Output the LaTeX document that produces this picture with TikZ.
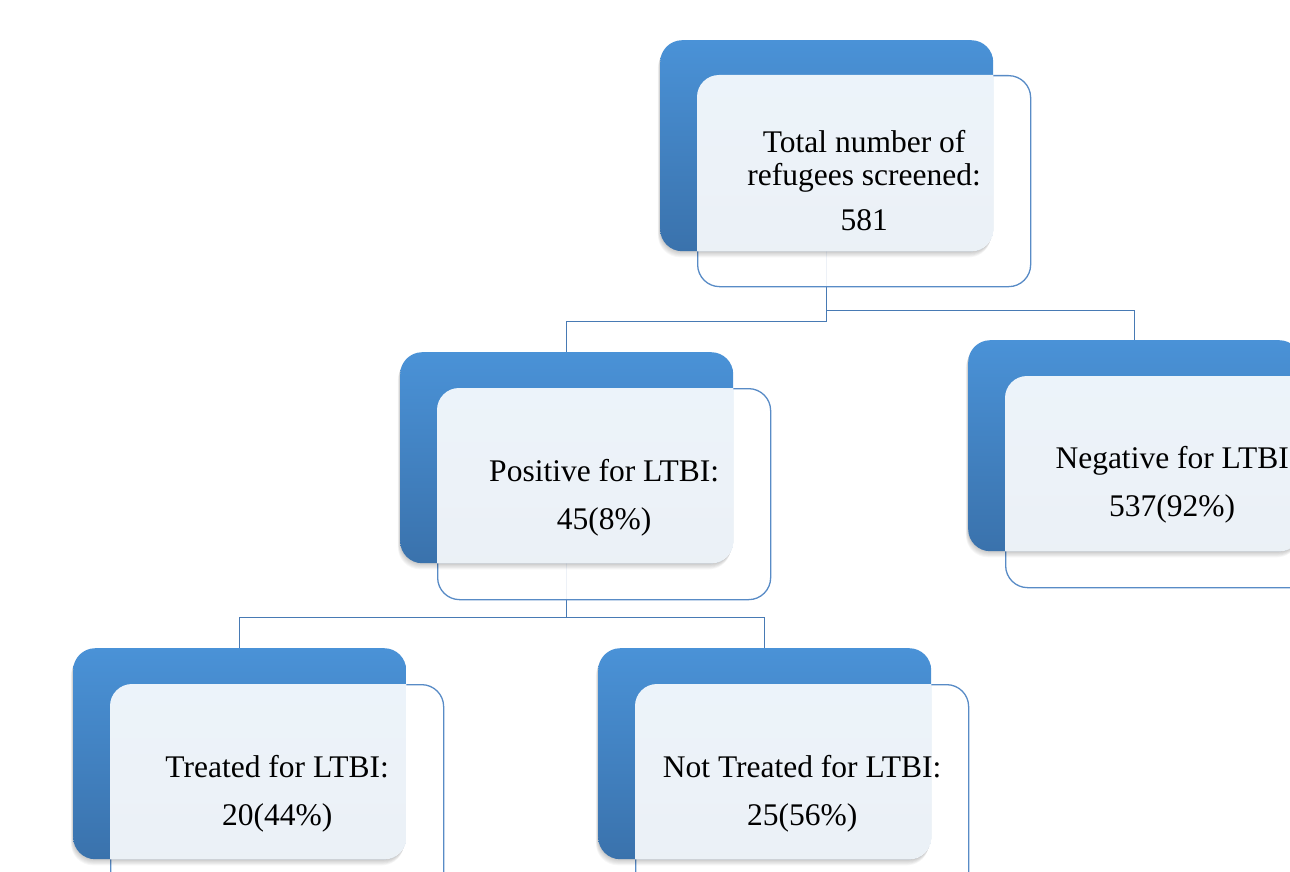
\documentclass[tikz,border=0pt]{standalone}
\usepackage{fontspec}
\setmainfont{Liberation Serif}
\usetikzlibrary{positioning}
\pgfdeclarelayer{bg}
\pgfsetlayers{bg,main}
\definecolor{blueT}{RGB}{74,146,215}
\definecolor{blueB}{RGB}{58,114,172}
\definecolor{edgeC}{RGB}{88,139,198}
\definecolor{connC}{RGB}{72,122,180}
\tikzset{
  backbox/.style={rectangle, rounded corners=22pt, minimum width=333pt, minimum height=211pt,
    anchor=north west, inner sep=0pt, top color=blueT, bottom color=blueB, draw=none},
  frontbox/.style={rectangle, rounded corners=22pt, minimum width=333pt, minimum height=211pt,
    anchor=north west, inner sep=0pt, draw=edgeC, line width=1.3pt, fill=white, fill opacity=0.9},
  conn/.style={draw=connC, line width=1.5pt},
  lbl/.style={align=center, inner sep=0pt, font=\fontsize{31.5}{33}\selectfont, text=black},
}
\newcommand{\softshadow}[2]{%
  \foreach \s in {1,...,7}{%
    \fill[black, opacity=0.03, rounded corners=22pt]
      ($(#1,#2)+(-0.3*\s,0.9*\s)$) rectangle ($(#1+333,#2+211)+(-0.3*\s,0.9*\s)$);}}
\usetikzlibrary{calc}
\newcommand{\overlapfill}[2]{%
  \begin{scope}
    \clip[rounded corners=22pt] (#1.north west) rectangle (#1.south east);
    \fill[white, opacity=0.9, rounded corners=22pt] (#2.north west) rectangle (#2.south east);
  \end{scope}}
\begin{document}
\begin{tikzpicture}[x=1pt, y=-1pt]
\useasboundingbox (0,0) rectangle (1290,872);
\clip (0,0) rectangle (1290,872);
% front outlines
\node[frontbox] (f1) at (697,75) {};
\node[frontbox] (f2) at (437,388) {};
\node[frontbox] (f3) at (1005,376) {};
\node[frontbox] (f4) at (110,684) {};
\node[frontbox] (f5) at (635,684) {};
% shadows
\softshadow{660}{40}
\softshadow{400}{352}
\softshadow{968}{340}
\softshadow{73}{648}
\softshadow{598}{648}
% back blue boxes
\node[backbox] (b1) at (660,40) {};
\node[backbox] (b2) at (400,352) {};
\node[backbox] (b3) at (968,340) {};
\node[backbox] (b4) at (73,648) {};
\node[backbox] (b5) at (598,648) {};
% overlaps
\overlapfill{b1}{f1}
\overlapfill{b2}{f2}
\overlapfill{b3}{f3}
\overlapfill{b4}{f4}
\overlapfill{b5}{f5}
% connectors
\begin{pgfonlayer}{bg}
\draw[conn] (b1.south) -- ++(0,70) -| (b2.north);
\draw[conn] (b1.south) -- ++(0,59) -| (b3.north);
\draw[conn] (b2.south) -- ++(0,54) -| (b4.north);
\draw[conn] (b2.south) -- ++(0,54) -| (b5.north);
\end{pgfonlayer}
% labels
\node[lbl] (t1) at ([yshift=1pt]f1.center) {Total number of\\refugees screened:\\[12pt]581};
\node[lbl] (t2) at ([yshift=-4pt]f2.center) {Positive for LTBI:\\[15pt]45(8\%)};
\node[lbl] (t3) at ([yshift=-2.5pt]f3.center) {Negative for LTBI\\[15pt]537(92\%)};
\node[lbl] (t4) at ([yshift=-4pt]f4.center) {Treated for LTBI:\\[15pt]20(44\%)};
\node[lbl] (t5) at ([yshift=-4pt]f5.center) {Not Treated for LTBI:\\[15pt]25(56\%)};
\end{tikzpicture}
\end{document}
